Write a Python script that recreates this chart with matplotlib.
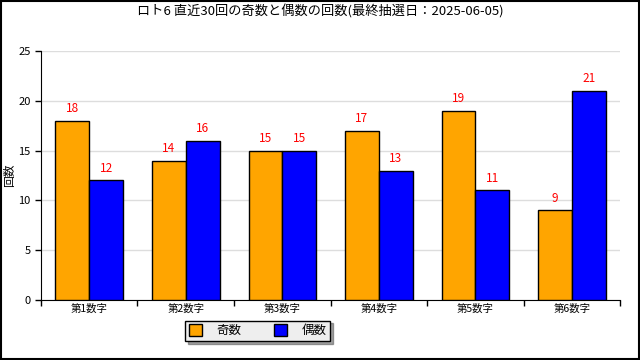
import numpy as np
import matplotlib
matplotlib.use("Agg")
import matplotlib.pyplot as plt

plt.rcParams['font.family'] = ['Noto Sans CJK JP', 'DejaVu Sans']

# data
categories = ['第1数字', '第2数字', '第3数字', '第4数字', '第5数字', '第6数字']
odd = [18, 14, 15, 17, 19, 9]
even = [12, 16, 15, 13, 11, 21]
series_names = ['奇数', '偶数']
title = 'ロト6 直近30回の奇数と偶数の回数(最終抽選日：2025-06-05)'

fig = plt.figure(figsize=(6.4, 3.6), dpi=100)
ax = fig.add_axes([0.064, 0.167, 0.905, 0.691])

x = np.arange(len(categories))
w = 0.35
b1 = ax.bar(x - w / 2, odd, w, color='#FFA500', edgecolor='black', linewidth=1, label=series_names[0], zorder=3)
b2 = ax.bar(x + w / 2, even, w, color='#0000FF', edgecolor='black', linewidth=1, label=series_names[1], zorder=3)

for bars in (b1, b2):
    for r in bars:
        ax.text(r.get_x() + r.get_width() / 2, r.get_height() + 0.55, str(int(r.get_height())),
                ha='center', va='bottom', color='red', fontsize=8.5)

ax.set_xlim(-0.5, len(categories) - 0.5)
ax.set_ylim(0, 25)
ax.set_yticks(range(0, 26, 5))
ax.set_xticks(x)
ax.set_xticklabels(categories, fontsize=7.5)
ax.set_xticks(np.arange(-0.5, len(categories)), minor=True)
ax.tick_params(axis='x', which='major', length=0, pad=3)
ax.tick_params(axis='x', which='minor', length=4, direction='out', width=1)
ax.tick_params(axis='y', labelsize=8, length=4, width=1)
ax.yaxis.grid(True, color='#dddddd', linewidth=1, zorder=0)
ax.spines['top'].set_visible(False)
ax.spines['right'].set_visible(False)
ax.set_ylabel('回数', fontsize=8.5)
ax.yaxis.set_label_coords(-0.043, 0.5)

fig.text(0.5, 0.968, title, ha='center', va='center', fontsize=9.5)

leg = fig.legend(loc='center', bbox_to_anchor=(0.403, 0.081), ncol=2, fontsize=9,
                 frameon=True, shadow=True, fancybox=False, edgecolor='black',
                 facecolor='#eeeeee', handlelength=1.0, handleheight=1.0,
                 handletextpad=1.2, columnspacing=2.6, borderpad=0.3, borderaxespad=0)
leg.get_frame().set_linewidth(1)

fig.patches.append(plt.Rectangle((0.002, 0.003), 0.996, 0.994, transform=fig.transFigure,
                                 fill=False, edgecolor='black', linewidth=1.5))

fig.savefig('out.png', dpi=100)
